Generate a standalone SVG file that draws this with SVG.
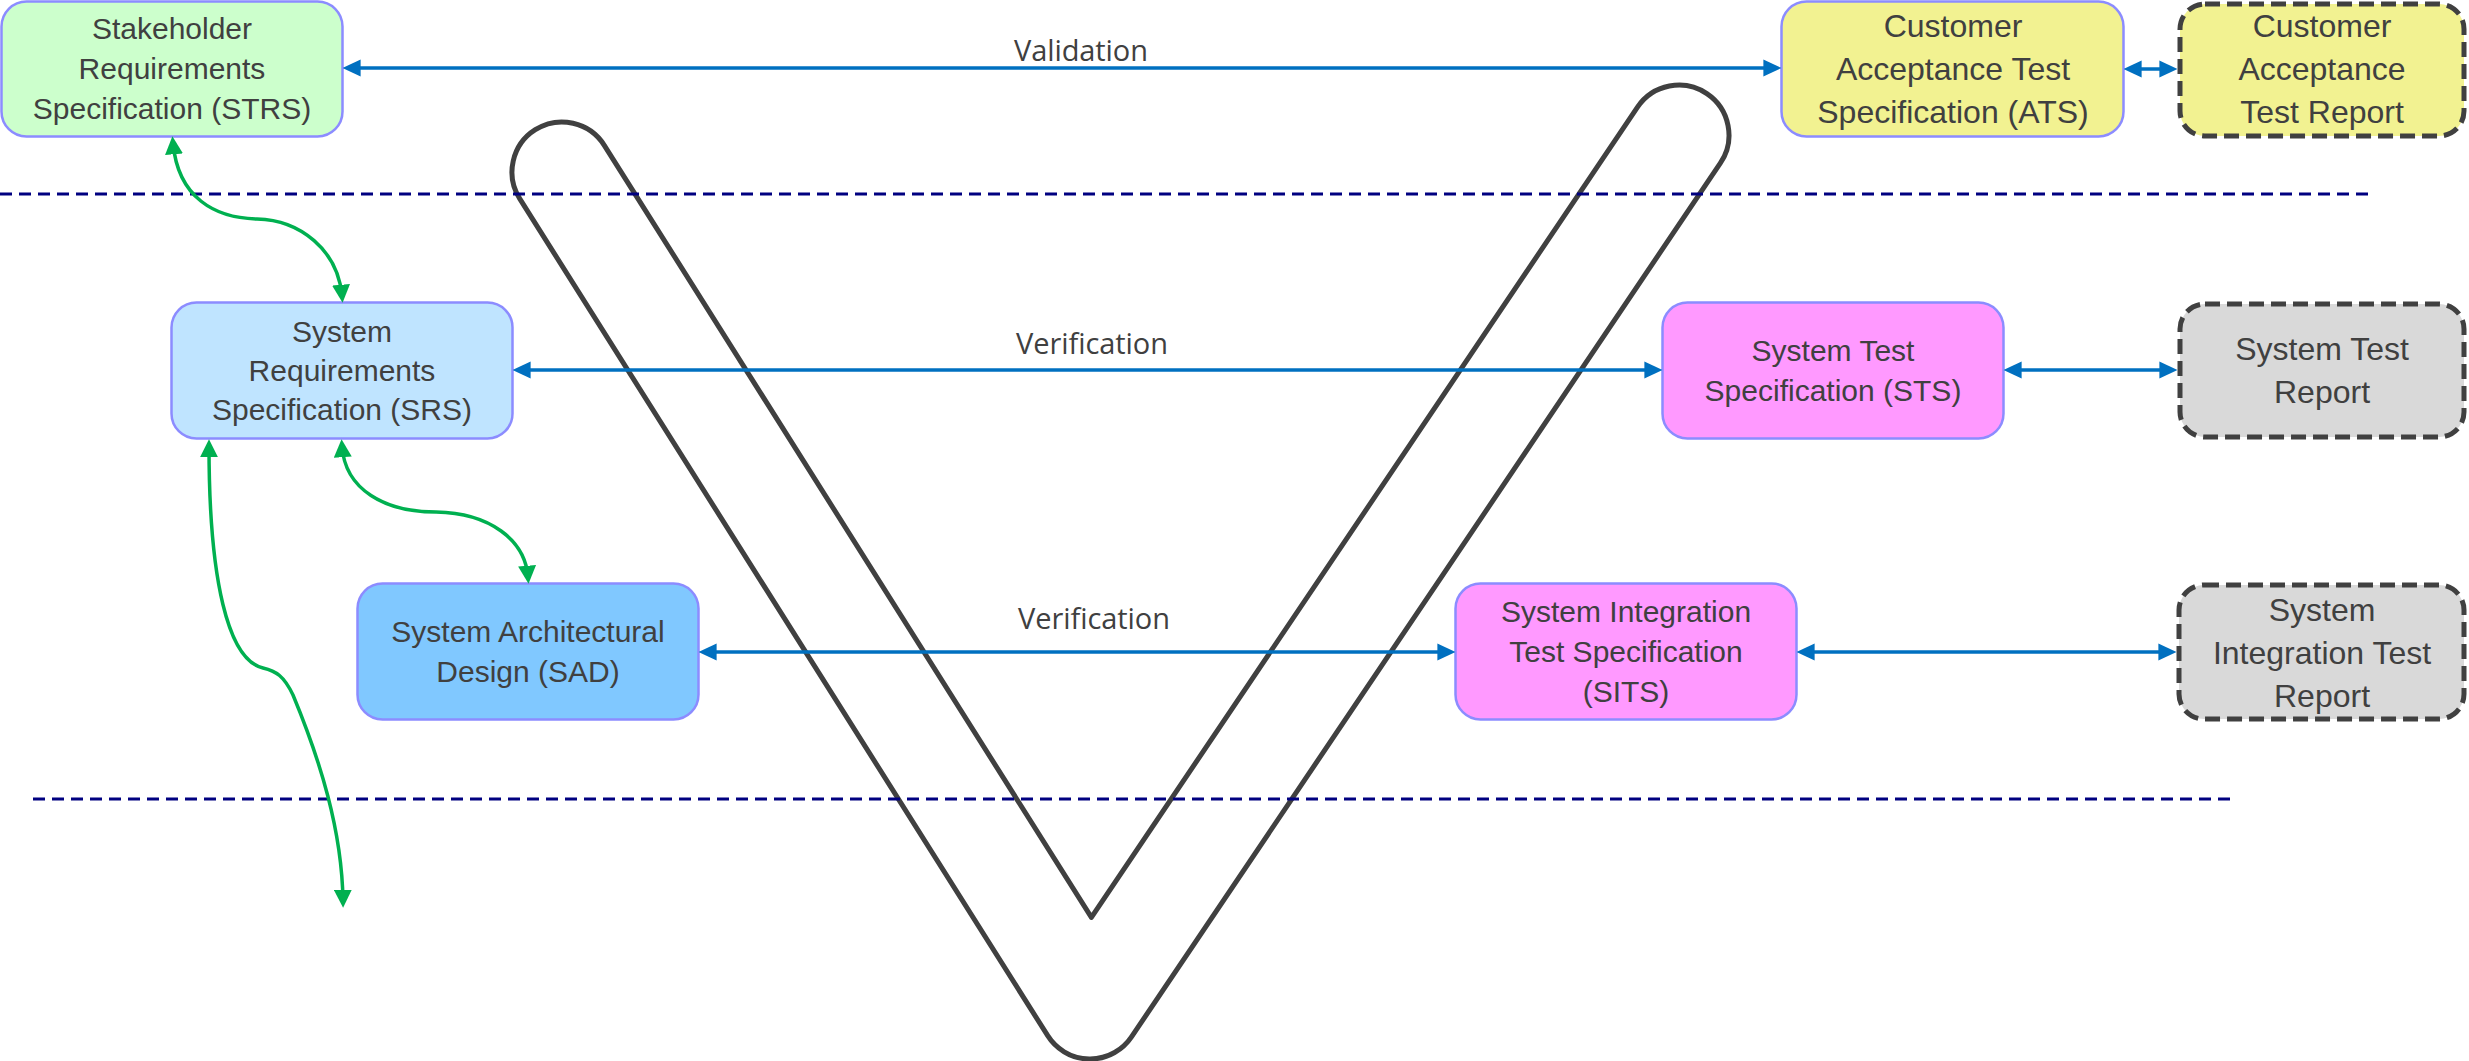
<svg xmlns="http://www.w3.org/2000/svg" width="2469" height="1061" viewBox="0 0 2469 1061">
<style>
.box{stroke:#8C8CFF;stroke-width:2.5}
.rep{stroke:#404040;stroke-width:5;stroke-dasharray:15 7}
.t30{font-family:"Liberation Sans",Arial,sans-serif;font-size:30px;fill:#404040;text-anchor:middle}
.t32{font-family:"Liberation Sans",Arial,sans-serif;font-size:32px;fill:#404040;text-anchor:middle}
.lbl{font-family:"Open Sans","Noto Sans",sans-serif;font-size:29px;fill:#404040;text-anchor:middle}
.blue{fill:none;stroke:#0070C0;stroke-width:3.5;marker-start:url(#ab);marker-end:url(#ab)}
.green{fill:none;stroke:#00B050;stroke-width:3.5;marker-start:url(#ag);marker-end:url(#ag)}
.sep{fill:none;stroke:#000080;stroke-width:3;stroke-dasharray:12 7}
.vee{fill:none;stroke:#404040;stroke-width:5;stroke-linejoin:round}
</style>
<defs>
<marker id="ab" markerUnits="userSpaceOnUse" markerWidth="18" markerHeight="18" viewBox="0 0 17 16" refX="11" refY="8" orient="auto-start-reverse">
<path d="M0,0 L17,8 L0,16 z" fill="#0070C0"/>
</marker>
<marker id="ag" markerUnits="userSpaceOnUse" markerWidth="18" markerHeight="18" viewBox="0 0 16 16" refX="10" refY="8" orient="auto-start-reverse">
<path d="M0,0 L16,8 L0,16 z" fill="#00B050"/>
</marker>
</defs>
<rect width="2469" height="1061" fill="#FFFFFF"/>

<g id="v-shape">
<path class="vee" d="M519.7,198.7 L1047.7,1035.7 A50 50 0 0 0 1131.5,1036.9 L1720.5,162.9 A50 50 0 0 0 1637.5,107.1 L1091.4,917.4 L604.3,145.3 A50 50 0 0 0 519.7,198.7 Z"/>
</g>

<g id="separators">
<path class="sep" d="M0,194 H2370"/>
<path class="sep" d="M33,799 H2236"/>
</g>

<g id="STRS">
<rect class="box" x="1.5" y="1.5" width="341" height="135" rx="25" fill="#CCFFCC"/>
<text class="t30" x="172" y="39">Stakeholder</text>
<text class="t30" x="172" y="79">Requirements</text>
<text class="t30" x="172" y="119">Specification (STRS)</text>
</g>

<g id="ATS">
<rect class="box" x="1781.5" y="1.5" width="342" height="135" rx="25" fill="#F2F291"/>
<text class="t32" x="1953" y="37">Customer</text>
<text class="t32" x="1953" y="80">Acceptance Test</text>
<text class="t32" x="1953" y="123">Specification (ATS)</text>
</g>

<g id="ATR">
<rect class="rep" x="2180" y="4" width="284" height="132" rx="25" fill="#F2F291"/>
<text class="t32" x="2322" y="37">Customer</text>
<text class="t32" x="2322" y="80">Acceptance</text>
<text class="t32" x="2322" y="123">Test Report</text>
</g>

<g id="SRS">
<rect class="box" x="171.5" y="302.5" width="341" height="136" rx="25" fill="#BFE4FF"/>
<text class="t30" x="342" y="342">System</text>
<text class="t30" x="342" y="381">Requirements</text>
<text class="t30" x="342" y="420">Specification (SRS)</text>
</g>

<g id="STS">
<rect class="box" x="1662.5" y="302.5" width="341" height="136" rx="25" fill="#FF99FF"/>
<text class="t30" x="1833" y="361">System Test</text>
<text class="t30" x="1833" y="401">Specification (STS)</text>
</g>

<g id="STR">
<rect class="rep" x="2180" y="304" width="284" height="133" rx="25" fill="#D9D9D9"/>
<text class="t32" x="2322" y="360">System Test</text>
<text class="t32" x="2322" y="403">Report</text>
</g>

<g id="SAD">
<rect class="box" x="357.5" y="583.5" width="341" height="136" rx="25" fill="#80C8FF"/>
<text class="t30" x="528" y="642">System Architectural</text>
<text class="t30" x="528" y="682">Design (SAD)</text>
</g>

<g id="SITS">
<rect class="box" x="1455.5" y="583.5" width="341" height="136" rx="25" fill="#FF99FF"/>
<text class="t30" x="1626" y="622">System Integration</text>
<text class="t30" x="1626" y="662">Test Specification</text>
<text class="t30" x="1626" y="702">(SITS)</text>
</g>

<g id="SITR">
<rect class="rep" x="2179" y="585" width="285" height="134" rx="25" fill="#D9D9D9"/>
<text class="t32" x="2322" y="621">System</text>
<text class="t32" x="2322" y="664">Integration Test</text>
<text class="t32" x="2322" y="707">Report</text>
</g>

<g id="connectors">
<path class="blue" d="M349,68 H1775"/>
<path class="blue" d="M2130,69 H2171"/>
<path class="blue" d="M519,370 H1656"/>
<path class="blue" d="M2010,370 H2171"/>
<path class="blue" d="M705,652 H1449"/>
<path class="blue" d="M1803,652 H2170"/>
<path class="green" d="M173,143 C178,198 215,218 257,219 C300,220 338,250 342,296"/>
<path class="green" d="M342,446 C345,490 385,512 436,512 C490,513 525,540 528,577"/>
<path class="green" d="M209,446 C209,580 228,660 263,668 C276,671 284,676 293,695 C320,760 342,830 343,901"/>
<text class="lbl" x="1081" y="61" textLength="134">Validation</text>
<text class="lbl" x="1092" y="354" textLength="152">Verification</text>
<text class="lbl" x="1094" y="629" textLength="152">Verification</text>
</g>
</svg>
